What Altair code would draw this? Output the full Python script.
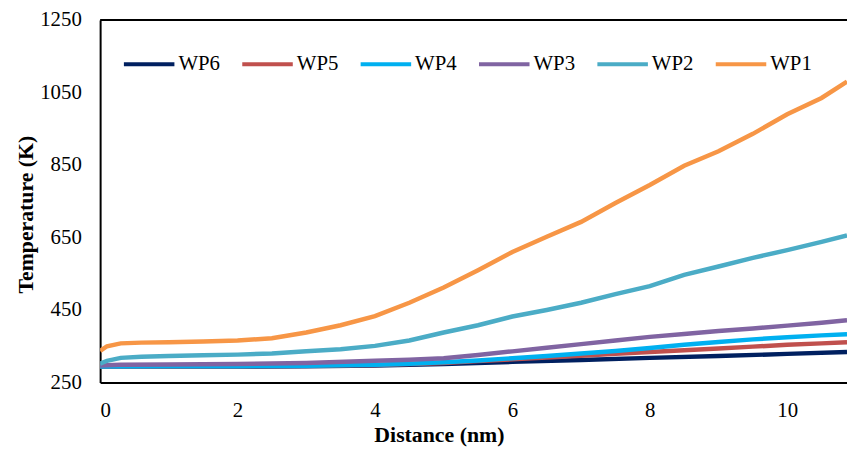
import altair as alt
import pandas as pd

series_order = ["WP6", "WP5", "WP4", "WP3", "WP2", "WP1"]
series_colors = ["#002060", "#C0504D", "#00B0F0", "#8064A2", "#4BACC6", "#F79646"]

wp1_x = [0, 0.1, 0.3, 0.6, 1, 1.5, 2, 2.5, 3, 3.5, 4, 4.5, 5, 5.5, 6, 6.5, 7, 7.5, 8, 8.5, 9, 9.5, 10, 10.5, 10.87]
wp1_y = [337, 350, 358, 360, 361, 363, 366, 372, 388, 408, 433, 470, 512, 560, 610, 652, 693, 745, 795, 848, 888, 936, 990, 1035, 1080]

wp2_x = [0, 0.1, 0.3, 0.6, 1, 1.5, 2, 2.5, 3, 3.5, 4, 4.5, 5, 5.5, 6, 6.5, 7, 7.5, 8, 8.5, 9, 9.5, 10, 10.5, 10.87]
wp2_y = [302, 310, 318, 321, 323, 325, 327, 330, 336, 342, 351, 366, 388, 408, 432, 450, 470, 494, 516, 547, 570, 594, 615, 638, 656]

wp3_x = [0, 0.3, 1, 2, 3, 4, 4.5, 5, 5.5, 6, 6.5, 7, 7.5, 8, 8.5, 9, 9.5, 10, 10.5, 10.87]
wp3_y = [297, 299, 300, 301, 304, 310, 313, 317, 326, 336, 346, 356, 366, 376, 384, 392, 399, 407, 415, 422]

wp4_x = [0, 1, 2, 3, 4, 4.5, 5, 5.5, 6, 6.5, 7, 7.5, 8, 8.5, 9, 9.5, 10, 10.5, 10.87]
wp4_y = [294, 295, 295, 296, 299, 302, 306, 311, 317, 323, 330, 337, 345, 354, 362, 369, 375, 380, 383]

wp5_x = [0, 2, 3, 4, 5, 5.5, 6, 6.5, 7, 7.5, 8, 8.5, 9, 9.5, 10, 10.5, 10.87]
wp5_y = [294, 295, 296, 298, 304, 309, 314, 319, 324, 329, 334, 339, 344, 349, 354, 358, 361]

wp6_x = [0, 2, 3, 4, 5, 6, 7, 8, 9, 10, 10.87]
wp6_y = [294, 294, 295, 297, 301, 307, 312, 318, 323, 329, 334]

y_ticks = [250, 450, 650, 850, 1050, 1250]
x_ticks = [0, 2, 4, 6, 8, 10]

rows = []
for name, xs, ys in [("WP6", wp6_x, wp6_y), ("WP5", wp5_x, wp5_y), ("WP4", wp4_x, wp4_y),
                     ("WP3", wp3_x, wp3_y), ("WP2", wp2_x, wp2_y), ("WP1", wp1_x, wp1_y)]:
    for i, (xv, yv) in enumerate(zip(xs, ys)):
        rows.append({"series": name, "idx": i, "distance": xv, "temp": yv})
df = pd.DataFrame(rows)

FONT = "Times New Roman, Liberation Serif, serif"
W, H = 754, 366

xscale = alt.Scale(domain=[0, 10.87], nice=False, zero=False)
yscale = alt.Scale(domain=[250, 1250], nice=False, zero=False)

lines = alt.Chart(df).mark_line(strokeWidth=4.5, clip=True).encode(
    x=alt.X("distance:Q", scale=xscale,
            axis=alt.Axis(values=x_ticks, format="d", title="Distance (nm)", ticks=False, grid=False,
                          labelPadding=17, labelFontSize=21, labelFont=FONT, labelColor="black",
                          domainColor="black", domainWidth=2,
                          titleFont=FONT, titleFontSize=22, titleFontWeight="bold", titleColor="black",
                          titleX=342, titleY=60, titleBaseline="alphabetic", titleAnchor="middle")),
    y=alt.Y("temp:Q", scale=yscale,
            axis=alt.Axis(values=y_ticks, format="d", title="Temperature (K)", ticks=False, grid=False,
                          labelPadding=19, labelFontSize=21, labelFont=FONT, labelColor="black",
                          domainColor="black", domainWidth=2,
                          titleFont=FONT, titleFontSize=22, titleFontWeight="bold", titleColor="black",
                          titleX=-68, titleY=196, titleBaseline="alphabetic", titleAngle=-90)),
    color=alt.Color("series:N", scale=alt.Scale(domain=series_order, range=series_colors),
                    legend=alt.Legend(title=None, orient="none", direction="horizontal",
                                      legendX=22, legendY=17, symbolType="stroke",
                                      symbolSize=2601, symbolStrokeWidth=4, labelOffset=2,
                                      labelFont=FONT, labelFontSize=21, labelColor="black",
                                      labelFontWeight="normal", columnPadding=14.5)),
    order=alt.Order("idx:Q"),
    detail="series:N",
)

top_border = alt.Chart(pd.DataFrame({"t": [1250]})).mark_rule(color="black", strokeWidth=2).encode(
    y=alt.Y("t:Q", scale=yscale)
)

chart = alt.layer(lines, top_border).properties(
    width=W, height=H,
    autosize=alt.AutoSizeParams(type="none"),
    padding={"left": 93, "top": 10, "right": 0, "bottom": 64},
).configure_view(stroke=None).configure_legend(
    labelFont=FONT, labelFontSize=21, labelColor="black"
).configure(background="white", font=FONT)

chart.save("out.html", embed_options={"renderer": "svg", "actions": False})
